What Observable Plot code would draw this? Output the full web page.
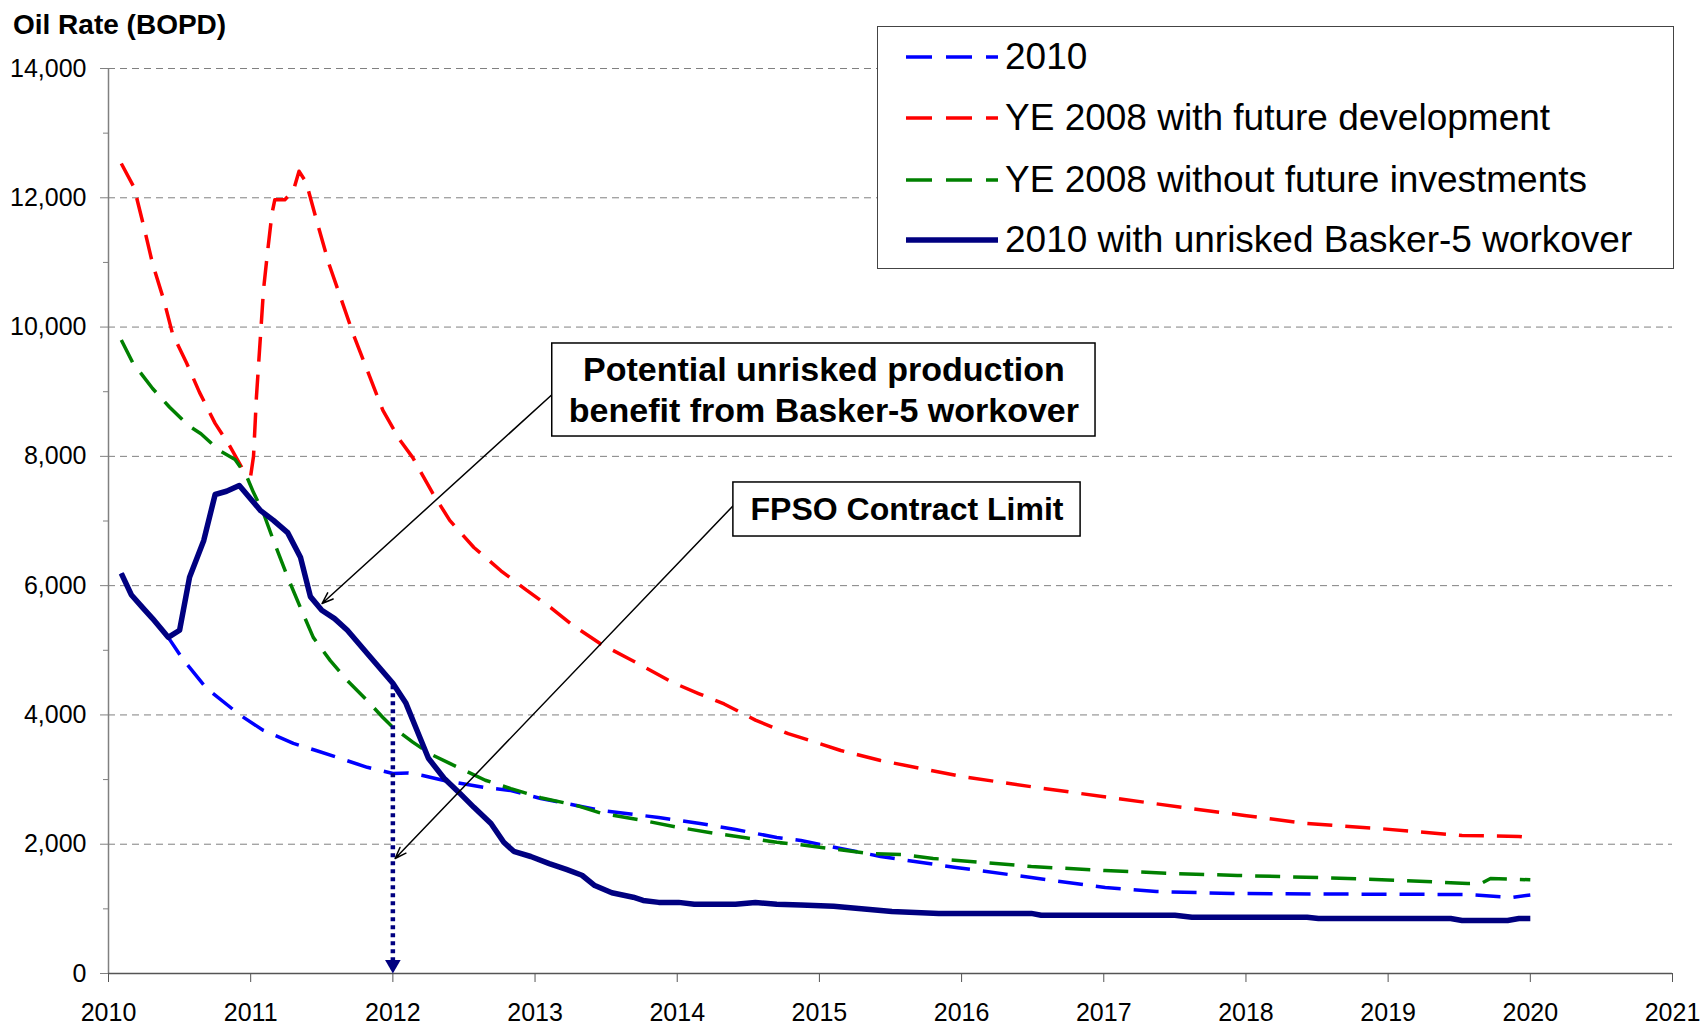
<!DOCTYPE html>
<html>
<head>
<meta charset="utf-8">
<script src="https://cdn.jsdelivr.net/npm/d3@7"></script>
<script src="https://cdn.jsdelivr.net/npm/@observablehq/plot@0.6"></script>
<style>
  html, body { margin: 0; padding: 0; background: #fff; }
  body { width: 1701px; height: 1026px; position: relative; overflow: hidden;
         font-family: "Liberation Sans", Arial, sans-serif; color: #000; }
  #title { height: 46px; line-height: 49px; padding-left: 13px; font-weight: bold; font-size: 28px; }
  #legend { position: absolute; left: 877px; top: 26px; width: 797px; height: 243px;
            box-sizing: border-box; border: 1.5px solid #444; background: #fff; }
  .lrow { position: absolute; left: 0; height: 50px; display: flex; align-items: center; }
  .lrow svg { margin-left: 28px; margin-right: 7px; }
  .lrow span { font-size: 37px; white-space: nowrap; }
  #chart svg { display: block; }
</style>
</head>
<body>
<div id="title">Oil Rate (BOPD)</div>
<div id="chart"></div>
<div id="legend"></div>
<script>
// ---------- data ----------
const yearTicks = [2010, 2011, 2012, 2013, 2014, 2015, 2016, 2017, 2018, 2019, 2020, 2021];
const majorTicks = [0, 2000, 4000, 6000, 8000, 10000, 12000, 14000];
const minorTicks = [1000, 3000, 5000, 7000, 9000, 11000, 13000];
const gridTicks = [2000, 4000, 6000, 8000, 10000, 12000, 14000];

const seriesNames = [
  "2010",
  "YE 2008 with future development",
  "YE 2008 without future investments",
  "2010 with unrisked Basker-5 workover"
];

// "2010"
const t2010 = [2010.09, 2010.16, 2010.24, 2010.31, 2010.42, 2010.52, 2010.69, 2010.93, 2011.09, 2011.30, 2011.46, 2011.82,
  2012.0, 2012.11, 2012.21, 2012.36, 2012.65, 2012.83, 2013.04, 2013.29, 2013.47, 2013.87, 2014.16, 2014.41, 2014.70,
  2014.87, 2015.43, 2015.96, 2016.49, 2017.01, 2017.37, 2017.9, 2018.5, 2019.56, 2019.87, 2020.0];
const v2010 = [6190, 5860, 5660, 5490, 5200, 4870, 4410, 3990, 3760, 3560, 3450, 3190,
  3094, 3100, 3063, 2986, 2877, 2831, 2707, 2600, 2522, 2413, 2320, 2228, 2104,
  2057, 1810, 1640, 1485, 1330, 1268, 1238, 1230, 1222, 1176, 1215];

// "YE 2008 with future development"
const tDev = [2010.09, 2010.18, 2010.25, 2010.31, 2010.39, 2010.45, 2010.55, 2010.64, 2010.75, 2010.85, 2010.95, 2011.0,
  2011.02, 2011.04, 2011.07, 2011.09, 2011.12, 2011.15, 2011.17, 2011.24, 2011.30, 2011.34, 2011.39, 2011.47, 2011.55,
  2011.64, 2011.72, 2011.82, 2011.93, 2012.05, 2012.14, 2012.28, 2012.40, 2012.57, 2012.76, 2012.94, 2013.11, 2013.27,
  2013.46, 2013.66, 2013.82, 2013.97, 2014.15, 2014.33, 2014.55, 2014.78, 2014.87, 2015.15, 2015.43, 2016.0, 2016.53,
  2017.05, 2017.62, 2017.99, 2018.43, 2018.95, 2019.52, 2019.92, 2020.0];
const vDev = [12530, 12160, 11540, 10980, 10410, 9900, 9440, 8990, 8510, 8170, 7780, 7700,
  8000, 8900, 9900, 10570, 11190, 11760, 11970, 11970, 12110, 12410, 12240, 11600, 10980,
  10410, 9900, 9330, 8710, 8250, 7980, 7430, 7010, 6590, 6230, 5930, 5660, 5380,
  5100, 4870, 4680, 4500, 4330, 4170, 3920, 3710, 3650, 3450, 3295, 3048, 2877,
  2720, 2550, 2445, 2320, 2240, 2135, 2120, 2100];

// "YE 2008 without future investments"
const tNoInv = [2010.09, 2010.17, 2010.31, 2010.43, 2010.56, 2010.65, 2010.78, 2010.89, 2010.97, 2011.02, 2011.09, 2011.16,
  2011.26, 2011.35, 2011.44, 2011.56, 2011.68, 2011.82, 2011.93, 2012.0, 2012.14, 2012.26, 2012.40, 2012.65, 2012.83,
  2013.04, 2013.29, 2013.47, 2013.73, 2014.01, 2014.26, 2014.48, 2014.70, 2014.87, 2015.35, 2015.59, 2015.8, 2016.16,
  2016.49, 2017.01, 2017.5, 2017.94, 2018.51, 2019.11, 2019.56, 2019.66, 2019.72, 2020.0];
const vNoInv = [9800, 9450, 9050, 8760, 8480, 8350, 8090, 7950, 7700, 7440, 7120, 6700,
  6130, 5660, 5200, 4840, 4530, 4220, 3960, 3810, 3580, 3400, 3250, 2990, 2860,
  2720, 2600, 2475, 2380, 2260, 2170, 2100, 2030, 1990, 1856, 1840, 1780, 1717,
  1655, 1593, 1547, 1516, 1485, 1439, 1392, 1400, 1470, 1450];

// "2010 with unrisked Basker-5 workover"
const tWork = [2010.09, 2010.16, 2010.24, 2010.31, 2010.42, 2010.5, 2010.57, 2010.67, 2010.75, 2010.83, 2010.92, 2011.07,
  2011.16, 2011.26, 2011.35, 2011.42, 2011.5, 2011.59, 2011.68, 2011.82, 2012.0, 2012.09, 2012.17, 2012.25, 2012.36,
  2012.47, 2012.57, 2012.69, 2012.78, 2012.85, 2012.97, 2013.1, 2013.22, 2013.33, 2013.42, 2013.54, 2013.69, 2013.76,
  2013.87, 2014.01, 2014.12, 2014.41, 2014.55, 2014.70, 2014.87, 2015.1, 2015.51, 2015.84, 2016.49, 2016.56, 2017.5,
  2017.62, 2018.43, 2018.51, 2019.44, 2019.52, 2019.84, 2019.92, 2020.0];
const vWork = [6190, 5860, 5660, 5490, 5200, 5310, 6130, 6700, 7410, 7460, 7550, 7160,
  7010, 6820, 6440, 5830, 5620, 5490, 5310, 4950, 4490, 4190, 3760, 3330, 3020,
  2790, 2570, 2320, 2030, 1890, 1810, 1700, 1610, 1520, 1360, 1250, 1180, 1130,
  1100, 1100, 1070, 1070, 1100, 1070, 1060, 1040, 960, 930, 930, 900, 900,
  870, 870, 850, 850, 820, 820, 850, 850];

// annotations (data space)
const contractArrow = [{x: 2012, y1: 4450, y2: 0}];
const calloutBoxes = [
  {label: "Potential unrisked production\nbenefit from Basker-5 workover", x1: 2013.121, x2: 2016.942, y1: 8307, y2: 9746, size: 34},
  {label: "FPSO Contract Limit", x1: 2014.395, x2: 2016.837, y1: 6760, y2: 7596, size: 32}
];
const calloutArrows = [
  {x1: 2013.128, y1: 8972, x2: 2011.502, y2: 5724},
  {x1: 2014.395, y1: 7240, x2: 2012.016, y2: 1779}
];

// ---------- styles ----------
const styles = [
  {color: "#0000FF", width: 3.5, dash: "25,13"},
  {color: "#FF0000", width: 3.5, dash: "25,13"},
  {color: "#008000", width: 3.5, dash: "25,13"},
  {color: "#000080", width: 5.5, dash: null}
];

const rows = (ts, vs) => ts.map((t, i) => ({x: t, y: vs[i]}));
const seriesData = [rows(t2010, v2010), rows(tDev, vDev), rows(tNoInv, vNoInv), rows(tWork, vWork)];
const drawOrder = [0, 1, 2, 3];

const lineMarks = drawOrder.map(i => Plot.line(seriesData[i], {
  x: "x", y: "y", stroke: styles[i].color, strokeWidth: styles[i].width,
  strokeDasharray: styles[i].dash, strokeLinejoin: "round", strokeLinecap: "butt"
}));

const chart = Plot.plot({
  width: 1701, height: 980,
  marginLeft: 108, marginRight: 29, marginTop: 22, marginBottom: 53,
  style: {fontFamily: "'Liberation Sans', Arial, sans-serif", fontSize: "25px", background: "transparent", color: "#000"},
  x: {domain: [2010, 2021]},
  y: {domain: [0, 14000]},
  marks: [
    Plot.gridY(gridTicks, {stroke: "#808080", strokeOpacity: 1, strokeWidth: 1, strokeDasharray: "7,5"}),
    Plot.axisY(majorTicks, {tickSize: 8, tickPadding: 14, tickFormat: d3.format(","), label: null, stroke: "#808080", fontSize: 25}),
    Plot.axisY(minorTicks, {tickSize: 5, tickFormat: () => "", label: null, stroke: "#808080"}),
    Plot.axisX(yearTicks, {tickSize: 9, tickPadding: 21, tickFormat: d => String(d), label: null, stroke: "#555", fontSize: 25}),
    Plot.ruleX([2010], {stroke: "#808080", strokeWidth: 1.5}),
    Plot.ruleY([0], {stroke: "#555", strokeWidth: 1.5}),
    ...lineMarks,
    Plot.ruleX(contractArrow, {x: "x", y1: "y1", y2: "y2", stroke: "#000080", strokeWidth: 4.5, strokeDasharray: "4,4"}),
    Plot.dot(contractArrow, {x: "x", y: "y2", symbol: "triangle", r: 5.8, rotate: 180, fill: "#000080", stroke: null, dy: -9}),
    Plot.arrow(calloutArrows, {x1: "x1", y1: "y1", x2: "x2", y2: "y2", stroke: "#000", strokeWidth: 1.5, headLength: 12, headAngle: 40}),
    Plot.rect(calloutBoxes, {x1: "x1", x2: "x2", y1: "y1", y2: "y2", fill: "#fff", stroke: "#000", strokeWidth: 1.5}),
    Plot.text(calloutBoxes, {x: d => (d.x1 + d.x2) / 2, y: d => (d.y1 + d.y2) / 2, text: "label",
      fontWeight: "bold", fontSize: d => d.size, lineHeight: 1.22, fill: "#000", dy: -2})
  ]
});
document.getElementById("chart").appendChild(chart);

// ---------- legend ----------
const legend = document.getElementById("legend");
const rowTops = [30, 91, 153, 213];
seriesNames.forEach((name, i) => {
  const row = document.createElement("div");
  row.className = "lrow";
  row.style.top = (rowTops[i] - 25) + "px";
  const st = styles[i];
  const svg = `<svg width="92" height="12"><line x1="0" x2="92" y1="6" y2="6" stroke="${st.color}" stroke-width="${st.width}" ${st.dash ? `stroke-dasharray="26,14"` : 'stroke-linecap="round"'}/></svg>`;
  row.innerHTML = svg + `<span>${name}</span>`;
  legend.appendChild(row);
});
</script>
</body>
</html>
